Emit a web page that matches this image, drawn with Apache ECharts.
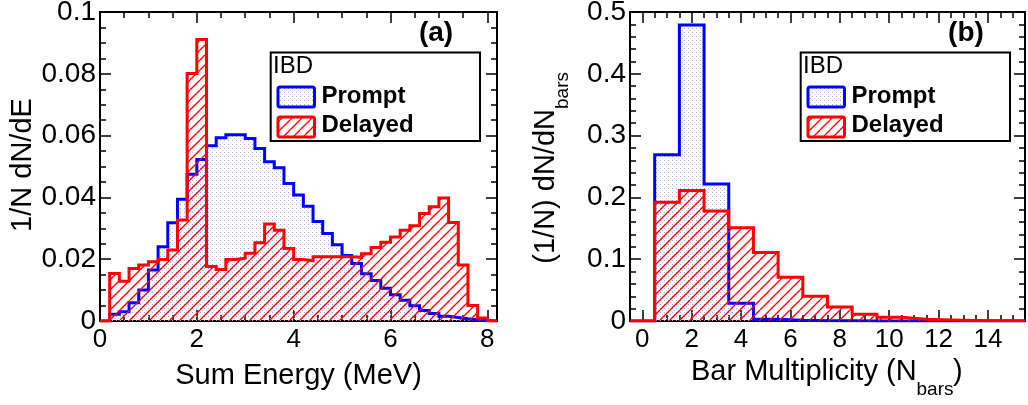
<!DOCTYPE html>
<html><head><meta charset="utf-8">
<script src="https://cdn.jsdelivr.net/npm/echarts@6/dist/echarts.min.js"></script>
<style>html,body{margin:0;padding:0;background:#fff}#c{width:1028px;height:405px}</style>
</head><body><div id="c"></div>
<script>
// ---------- data ----------
const energyEdges = [0,0.2,0.4,0.6,0.8,1.0,1.2,1.4,1.6,1.8,2.0,2.2,2.4,2.6,2.8,3.0,3.2,3.4,3.6,3.8,4.0,
  4.2,4.4,4.6,4.8,5.0,5.2,5.4,5.6,5.8,6.0,6.2,6.4,6.6,6.8,7.0,7.2,7.4,7.6,7.8,8.0,8.2];
const energyPrompt = [0,0.0022,0.0030,0.0059,0.0100,0.0165,0.0240,0.0318,0.0394,0.0475,0.0523,
  0.0567,0.0593,0.0603,0.0603,0.0591,0.0558,0.0515,0.0496,0.0445,0.0408,0.0371,0.0322,0.0283,
  0.0247,0.0212,0.0186,0.0153,0.0131,0.0106,0.0085,0.0067,0.0049,0.0034,0.0024,0.0015,0.0011,
  0.0007,0.0004,0.0002,0];
const energyDelayed = [0,0.0154,0.0129,0.0170,0.0181,0.0192,0.0199,0.0230,0.0327,0.0801,0.0911,
  0.0176,0.0167,0.0199,0.0203,0.0219,0.0253,0.0314,0.0294,0.0235,0.0199,0.0195,0.0208,0.0208,
  0.0208,0.0208,0.0206,0.0218,0.0238,0.0255,0.0272,0.0294,0.0308,0.0348,0.0370,0.0398,0.0319,
  0.0181,0.0050,0.0010,0];
const multEdges = [-0.5,0.5,1.5,2.5,3.5,4.5,5.5,6.5,7.5,8.5,9.5,10.5,11.5,12.5,13.5,14.5,15.5];
const multPrompt = [0,0.269,0.479,0.2216,0.0286,0.0030,0.0012,0.0005,0.0003,0.0001,0,0,0,0,0,0];
const multDelayed = [0,0.192,0.211,0.178,0.151,0.111,0.0708,0.040,0.0227,0.0108,0.0059,0.0027,
  0.0016,0.0010,0.0005,0.0003];

const energyTicks = [0,2,4,6,8];
const energyMinor = [0,0.5,1,1.5,2,2.5,3,3.5,4,4.5,5,5.5,6,6.5,7,7.5,8];
const yTicksA = [0,0.02,0.04,0.06,0.08,0.1];
const yMinorA = [0,0.005,0.01,0.015,0.02,0.025,0.03,0.035,0.04,0.045,0.05,0.055,0.06,0.065,0.07,
  0.075,0.08,0.085,0.09,0.095,0.1];
const multTicks = [0,2,4,6,8,10,12,14];
const multMinor = [0,0.5,1,1.5,2,2.5,3,3.5,4,4.5,5,5.5,6,6.5,7,7.5,8,8.5,9,9.5,10,10.5,11,11.5,
  12,12.5,13,13.5,14,14.5,15,15.5];
const yTicksB = [0,0.1,0.2,0.3,0.4,0.5];
const yMinorB = [0,0.02,0.04,0.06,0.08,0.1,0.12,0.14,0.16,0.18,0.2,0.22,0.24,0.26,0.28,0.3,0.32,
  0.34,0.36,0.38,0.4,0.42,0.44,0.46,0.48,0.5];

const titleA = {x:'Sum Energy (MeV)', y:'1/N dN/dE', tag:'(a)'};
const titleB = {x:'Bar Multiplicity (N', xsub:'bars', xend:')', y:'(1/N) dN/dN', ysub:'bars', tag:'(b)'};
const legendHead = 'IBD';
const legendNames = ['Prompt','Delayed'];

// ---------- patterns ----------
const FONT = '"Liberation Sans", Arial, Helvetica, sans-serif';
function dotPattern(){
  const c = document.createElement('canvas'); c.width = 4; c.height = 4;
  const g = c.getContext('2d');
  g.fillStyle = '#a4a4ff'; g.fillRect(0,0,1,1);
  g.fillStyle = '#d6d6ff'; g.fillRect(2,2,1,1);
  return c;
}
function hatchPattern(){
  const s = 10;
  const c = document.createElement('canvas'); c.width = s; c.height = s;
  const g = c.getContext('2d');
  g.strokeStyle = '#ff0000'; g.lineWidth = 1.3;
  for (const k of [-1,0,1]) { g.beginPath(); g.moveTo(k*s, s); g.lineTo(k*s + s, 0); g.stroke(); }
  return c;
}
const DOTS = {image: dotPattern(), repeat: 'repeat'};
const HATCH = {image: hatchPattern(), repeat: 'repeat'};

// ---------- axes ----------
const tickStyle = {color:'#000', width:1.5};
function fmtNum(v){ return String(+(+v).toFixed(3)); }
function axesPair(isX, grid, min, max, major, minor, labelSize, margin){
  const base = {type:'value', gridIndex:grid, min, max, splitLine:{show:false}, axisPointer:{show:false}};
  const posA = isX ? 'bottom' : 'left', posB = isX ? 'top' : 'right';
  const line = {show:true, onZero:false, lineStyle:{color:'#000', width:2}};
  const noLine = {show:false, onZero:false};
  return [
    Object.assign({}, base, {position:posA, axisLine:line,
      axisTick:{show:true, inside:true, length:11, customValues:major, lineStyle:tickStyle},
      axisLabel:{show:true, customValues:major, formatter:fmtNum, margin, color:'#000',
        fontSize:labelSize, fontFamily:FONT, hideOverlap:false}}),
    Object.assign({}, base, {position:posA, axisLine:noLine,
      axisTick:{show:true, inside:true, length:6, customValues:minor, lineStyle:tickStyle},
      axisLabel:{show:false}}),
    Object.assign({}, base, {position:posB, axisLine:line,
      axisTick:{show:true, inside:true, length:11, customValues:major, lineStyle:tickStyle},
      axisLabel:{show:false}}),
    Object.assign({}, base, {position:posB, axisLine:noLine,
      axisTick:{show:true, inside:true, length:6, customValues:minor, lineStyle:tickStyle},
      axisLabel:{show:false}})
  ];
}
const xAxis = [].concat(
  axesPair(true, 0, 0, 8.2, energyTicks, energyMinor, 26, 6),
  axesPair(true, 1, -0.5, 15.5, multTicks, multMinor, 26, 6));
const yAxis = [].concat(
  axesPair(false, 0, 0, 0.1, yTicksA, yMinorA, 28, 4),
  axesPair(false, 1, 0, 0.5, yTicksB, yMinorB, 28, 4));

// ---------- series ----------
function stepData(edges, vals){
  const d = vals.map((v,i) => [edges[i], v]);
  d.push([edges[edges.length-1], vals[vals.length-1]]);
  return d;
}
function hist(name, edges, vals, xi, yi, color, fill, z){
  return {type:'line', name, xAxisIndex:xi, yAxisIndex:yi, step:'end', data:stepData(edges, vals),
    symbol:'none', showSymbol:false, z, silent:true,
    lineStyle:{color, width:3, join:'miter', cap:'butt'},
    areaStyle:{color:fill, opacity:1, origin:'start'}};
}
const series = [
  hist('Prompt', energyEdges, energyPrompt, 0, 0, '#0000ff', DOTS, 2),
  hist('Delayed', energyEdges, energyDelayed, 0, 0, '#ff0000', HATCH, 3),
  hist('Prompt', multEdges, multPrompt, 4, 4, '#0000ff', DOTS, 2),
  hist('Delayed', multEdges, multDelayed, 4, 4, '#ff0000', HATCH, 3)
];

// ---------- titles, legends ----------
function txt(x, y, text, size, align, bold, rot){
  const el = {type:'text', x, y, z:20, silent:true,
    style:{text, fontSize:size, fontFamily:FONT, fill:'#000', align:align || 'center',
      verticalAlign:'middle', fontWeight:bold ? 'bold' : 'normal'}};
  if (rot) el.rotation = rot;
  return el;
}
function legend(dx){
  return [
    {type:'rect', z:15, silent:true, shape:{x:270.7+dx, y:52.5, width:209.3, height:88.5},
      style:{fill:'#fff', stroke:'#000', lineWidth:2}},
    txt(273+dx, 66.5, legendHead, 24, 'left'),
    {type:'rect', z:16, silent:true, shape:{x:278+dx, y:87, width:36.5, height:20, r:2},
      style:{fill:DOTS, stroke:'#0000ff', lineWidth:3}},
    {type:'rect', z:16, silent:true, shape:{x:278+dx, y:117, width:36.5, height:20, r:2},
      style:{fill:HATCH, stroke:'#ff0000', lineWidth:3}},
    txt(321.5+dx, 96, legendNames[0], 24, 'left', true),
    txt(321.5+dx, 125, legendNames[1], 24, 'left', true)
  ];
}
const graphic = [].concat(
  legend(0), legend(530),
  [
    txt(436, 33, titleA.tag, 28, 'center', true),
    txt(966, 33, titleB.tag, 28, 'center', true),
    txt(298.5, 375.5, titleA.x, 29),
    txt(23, 165, titleA.y, 29, 'center', false, Math.PI/2),
    txt(691, 371.5, titleB.x, 29, 'left'),
    txt(916.5, 390, titleB.xsub, 19, 'left'),
    txt(953, 371.5, titleB.xend, 29, 'left'),
    txt(545.5, 109, titleB.y, 29, 'right', false, Math.PI/2),
    txt(562.5, 109, titleB.ysub, 19, 'left', false, Math.PI/2)
  ]);

const chart = echarts.init(document.getElementById('c'), null, {renderer:'canvas', devicePixelRatio:1});
chart.setOption({
  animation:false,
  backgroundColor:'#fff',
  grid:[
    {left:100, top:12, width:397, height:309, outerBoundsMode:'none', containLabel:false},
    {left:630, top:12, width:395, height:309, outerBoundsMode:'none', containLabel:false}
  ],
  xAxis, yAxis, series, graphic,
  tooltip:{show:false}, legend:{show:false}
});
</script></body></html>
